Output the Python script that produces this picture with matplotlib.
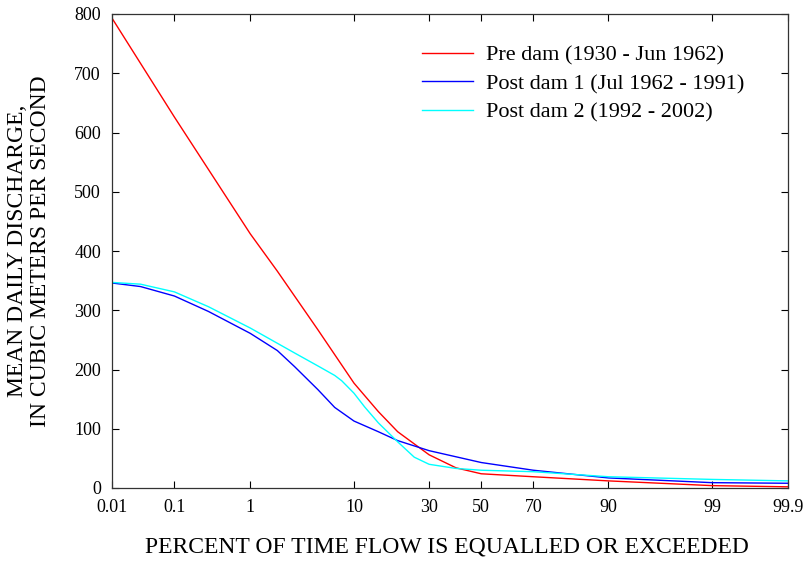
import math
import numpy as np
import matplotlib
matplotlib.use('Agg')
import matplotlib.pyplot as plt

plt.rcParams['font.family'] = ['Liberation Serif', 'DejaVu Serif']

# exceedance percent and mean daily discharge (m3/s)
pre_pct = [0.01, 0.1, 1, 2, 5, 10, 15, 20, 30, 40, 50, 70, 90, 99, 99.9]
pre_q = [793, 626, 429, 366, 267, 177, 129, 95, 56, 34, 24, 19, 12, 4, 2]

post1_pct = [0.01, 0.03, 0.1, 0.3, 1, 2, 3, 5, 7, 10, 15, 20, 30, 50, 70, 90, 99, 99.9]
post1_q = [346, 340, 324, 298, 261, 232, 205, 166, 136, 113, 95, 80, 63, 43, 30, 17, 9, 8]

post2_pct = [0.01, 0.03, 0.1, 0.3, 1, 3, 5, 7, 8, 10, 12, 15, 20, 25, 30, 40, 50, 70, 90, 99, 99.9]
post2_q = [347, 344, 331, 306, 270, 228, 206, 190, 181, 160, 137, 110, 78, 52, 40, 33, 30, 27.5, 19, 14.5, 12]

labels = ['Pre dam (1930 - Jun 1962)', 'Post dam 1 (Jul 1962 - 1991)',
          'Post dam 2 (1992 - 2002)']
colors = ['red', 'blue', 'cyan']

xticks = [0.01, 0.1, 1, 10, 30, 50, 70, 90, 99, 99.9]
xticklabels = ['0.01', '0.1', '1', '10', '30', '50', '70', '90', '99', '99.9']
yticks = [0, 100, 200, 300, 400, 500, 600, 700, 800]

# normal probability scale, built from a lookup table
z_tab = np.linspace(-6, 6, 24001)
p_tab = 50.0 * (1.0 + np.vectorize(math.erf)(z_tab / math.sqrt(2)))


def to_z(p):
    return np.interp(p, p_tab, z_tab)


def to_p(z):
    return np.interp(z, z_tab, p_tab)


fig = plt.figure(figsize=(8.04, 5.63), dpi=100)
ax = fig.add_axes([112 / 804, 75 / 563, 676 / 804, 474 / 563])
ax.set_xscale('function', functions=(to_z, to_p))

for x, y, c, lab in zip([pre_pct, post1_pct, post2_pct], [pre_q, post1_q, post2_q],
                        colors, labels):
    ax.plot(x, y, color=c, lw=1.0, label=lab)

ax.set_xlim(0.01, 99.9)
ax.set_ylim(0, 800)
ax.set_xticks(xticks)
ax.set_xticklabels(xticklabels)
ax.set_yticks(yticks)
ax.xaxis.set_minor_locator(matplotlib.ticker.NullLocator())
ax.tick_params(direction='in', top=True, right=True, length=5, width=0.8,
               labelsize=13, pad=8)
for s in ax.spines.values():
    s.set_linewidth(0.9)
    s.set_color('#333333')

ax.legend(loc='upper left', bbox_to_anchor=((422 - 112) / 676, 1 - (45 - 14) / 474),
          frameon=False, fontsize=16, handlelength=2.3, handletextpad=0.6,
          labelspacing=0.36, borderpad=0, borderaxespad=0)

fig.text(447 / 804, 1 - 547 / 563, 'PERCENT OF TIME FLOW IS EQUALLED OR EXCEEDED',
         ha='center', va='center', fontsize=17)
fig.text(29 / 804, 1 - 251 / 563, 'MEAN DAILY DISCHARGE,\nIN CUBIC METERS PER SECOND',
         ha='center', va='center', rotation=90, fontsize=17, linespacing=1.15)

fig.savefig('out.png', dpi=100)
